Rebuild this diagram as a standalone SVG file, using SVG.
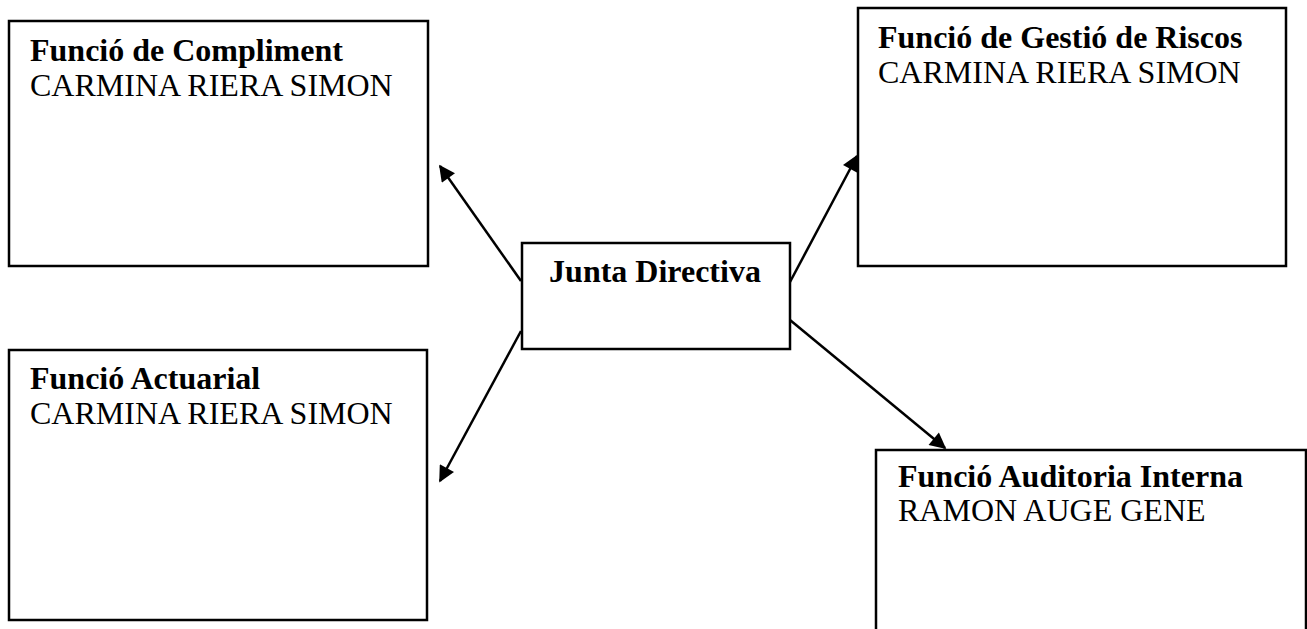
<svg xmlns="http://www.w3.org/2000/svg" width="1307" height="629" viewBox="0 0 1307 629">
<defs>
<style>
.box{fill:#fff;stroke:#000;stroke-width:2.5}
.t{font-family:"Liberation Serif","Times New Roman",serif;font-size:32px;fill:#000}
.b{font-weight:bold}
.c{stroke:#000;stroke-width:2.5;fill:none;marker-end:url(#ah)}
</style>
<marker id="ah" viewBox="0 0 10 10" refX="9" refY="5" markerWidth="7" markerHeight="6.5" orient="auto" markerUnits="strokeWidth">
<path d="M0,0 L10,5 L0,10 z" fill="#000"/>
</marker>
</defs>
<g id="connectors">
<line class="c" x1="521" y1="281" x2="440" y2="166"/>
<line class="c" x1="521" y1="331" x2="440" y2="481"/>
<line class="c" x1="790" y1="282" x2="857" y2="156"/>
<line class="c" x1="790" y1="320" x2="945" y2="448"/>
</g>
<g id="compliment">
<rect class="box" x="9" y="21" width="419" height="245"/>
<text class="t b" x="30" y="61">Funció de Compliment</text>
<text class="t" x="30" y="96">CARMINA RIERA SIMON</text>
</g>
<g id="actuarial">
<rect class="box" x="9" y="350" width="418" height="270"/>
<text class="t b" x="30" y="389">Funció Actuarial</text>
<text class="t" x="30" y="424">CARMINA RIERA SIMON</text>
</g>
<g id="junta">
<rect class="box" x="522" y="243" width="268" height="106"/>
<text class="t b" x="655" y="282" text-anchor="middle">Junta Directiva</text>
</g>
<g id="gestio">
<rect class="box" x="858" y="8" width="428" height="258"/>
<text class="t b" x="878" y="48">Funció de Gestió de Riscos</text>
<text class="t" x="878" y="83">CARMINA RIERA SIMON</text>
</g>
<g id="auditoria">
<rect class="box" x="876" y="450" width="430" height="200"/>
<text class="t b" x="898" y="487">Funció Auditoria Interna</text>
<text class="t" x="898" y="521">RAMON AUGE GENE</text>
</g>
</svg>
